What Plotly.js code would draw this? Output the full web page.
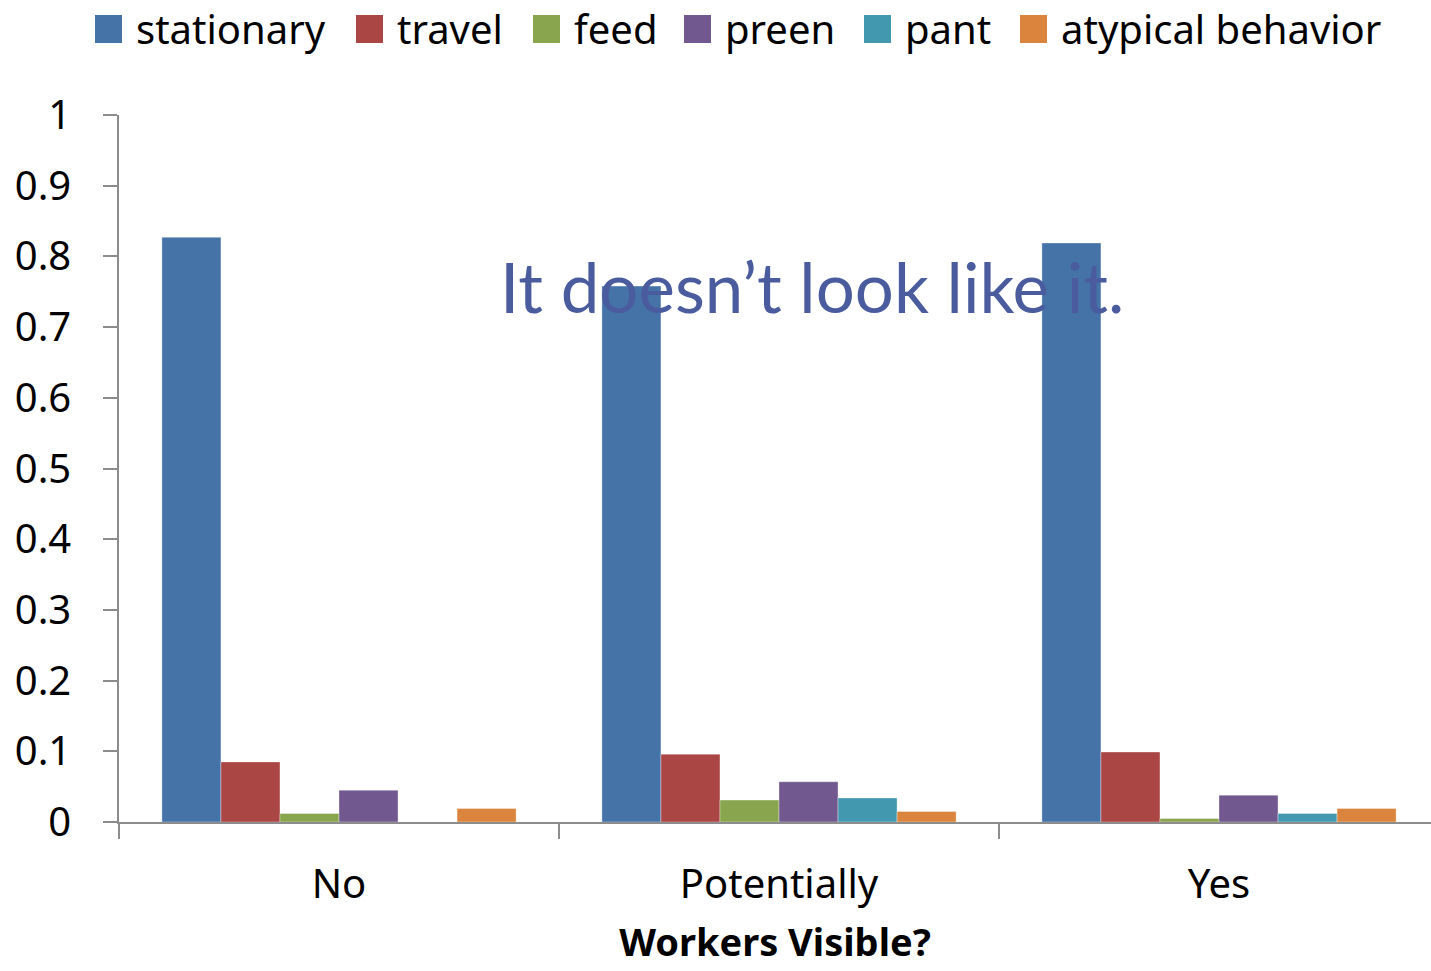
<!DOCTYPE html>
<html>
<head>
<meta charset="utf-8">
<script src="https://cdn.plot.ly/plotly-3.0.1.min.js"></script>
<style>html,body{margin:0;padding:0;overflow:hidden;background:#fff}</style>
</head>
<body>
<div id="chart" style="width:1431px;height:971px"></div>
<script>
const categories = ["No", "Potentially", "Yes"];
const seriesNames = ["stationary", "travel", "feed", "preen", "pant", "atypical behavior"];
const stationary = [0.827, 0.758, 0.819];
const travel = [0.085, 0.096, 0.099];
const feed = [0.012, 0.031, 0.005];
const preen = [0.045, 0.057, 0.038];
const pant = [0.0, 0.034, 0.012];
const atypical = [0.019, 0.015, 0.019];
const yTicks = [0, 0.1, 0.2, 0.3, 0.4, 0.5, 0.6, 0.7, 0.8, 0.9, 1];
const yTickLabels = ["0", "0.1", "0.2", "0.3", "0.4", "0.5", "0.6", "0.7", "0.8", "0.9", "1"];

const values = [stationary, travel, feed, preen, pant, atypical];
const colors = ["#4572A7", "#AA4643", "#89A54E", "#71588F", "#4198AF", "#DB843D"];
const font = "Noto Sans, Open Sans, sans-serif";

// plot area geometry (pixels)
const L = 119, R = 1431, T = 115, B = 822;
const W = R - L, H = B - T;
const px2x = p => (p - L) / W;
const px2y = p => (B - p) / H;

// custom legend placement (pixel left edge of each swatch)
const legendSwatchLeft = [95, 356, 533, 684, 864, 1020];
const swatchSize = 27, legendTop = 15, legendTextGap = 12;

const traces = seriesNames.map((n, i) => ({
  type: "bar", name: n, x: categories, y: values[i],
  marker: {color: colors[i], line: {width: 1, color: "rgba(255,255,255,0.35)"}},
  showlegend: false
}));

const shapes = seriesNames.map((n, i) => ({
  type: "rect", xref: "paper", yref: "paper",
  x0: px2x(legendSwatchLeft[i]), x1: px2x(legendSwatchLeft[i] + swatchSize),
  y0: px2y(legendTop + swatchSize + 1), y1: px2y(legendTop),
  fillcolor: colors[i], line: {width: 0}
}));

const annotations = seriesNames.map((n, i) => ({
  text: n, xref: "paper", yref: "paper",
  x: px2x(legendSwatchLeft[i] + swatchSize + legendTextGap), xanchor: "left",
  y: px2y(28), yanchor: "middle", showarrow: false,
  font: {family: font, size: 40, color: "#000"}
}));

annotations.push({
  text: "It doesn’t look like it.", xref: "paper", yref: "paper",
  x: px2x(812), y: px2y(286), xanchor: "center", yanchor: "middle",
  showarrow: false, font: {family: "Lato, sans-serif", size: 69, color: "#4A5C9E"}
});

const layout = {
  width: 1431, height: 971,
  margin: {l: L, r: 0, t: T, b: 971 - B},
  paper_bgcolor: "#fff", plot_bgcolor: "#fff",
  barmode: "group", bargap: 0.195, bargroupgap: 0,
  showlegend: false,
  xaxis: {
    range: [-0.5, -0.5 + W / 440], type: "category", showgrid: false,
    showline: true, linecolor: "#8c8c8c", linewidth: 1.5,
    ticks: "outside", tickson: "boundaries", ticklen: 15, tickcolor: "#8c8c8c", tickwidth: 1.5,
    ticklabelstandoff: 26,
    tickfont: {family: font, size: 40, color: "#000"},
    title: {text: "<b>Workers Visible?</b>", font: {family: font, size: 38, color: "#000"}, standoff: 21}
  },
  yaxis: {
    range: [0, 1], tickvals: yTicks, ticktext: yTickLabels, showgrid: false,
    showline: true, linecolor: "#8c8c8c", linewidth: 1.5,
    ticks: "outside", ticklen: 14, tickcolor: "#8c8c8c", tickwidth: 1.5,
    ticklabelstandoff: 24,
    tickfont: {family: font, size: 40, color: "#000"}, zeroline: false
  },
  shapes: shapes,
  annotations: annotations
};

Plotly.newPlot("chart", traces, layout, {displayModeBar: false});
</script>
</body>
</html>
